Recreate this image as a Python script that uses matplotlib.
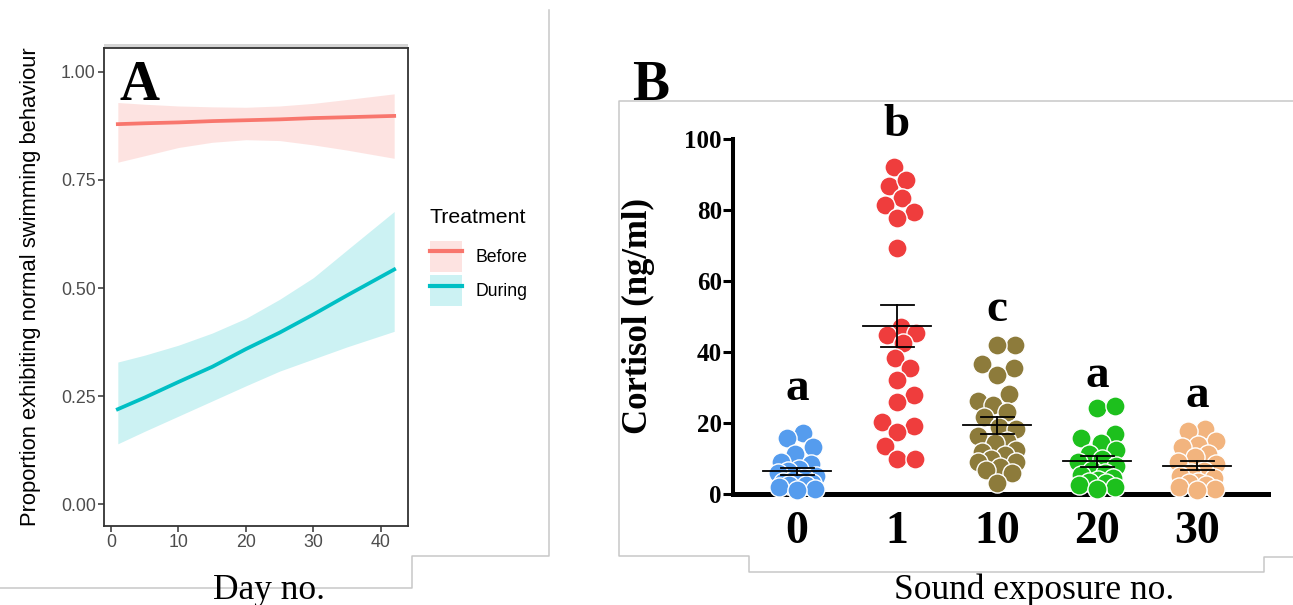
import numpy as np
import matplotlib
matplotlib.use('Agg')
import matplotlib.pyplot as plt
from matplotlib.lines import Line2D
from matplotlib.patches import Patch, Rectangle

# ---- panel A data (model fit + ribbon) ----
day = [1, 5, 10, 15, 20, 25, 30, 35, 42]
before_fit = [0.879, 0.881, 0.883, 0.886, 0.888, 0.890, 0.893, 0.895, 0.898]
before_hi = [0.929, 0.925, 0.921, 0.919, 0.918, 0.921, 0.927, 0.936, 0.949]
before_lo = [0.791, 0.806, 0.825, 0.837, 0.843, 0.841, 0.831, 0.819, 0.800]
during_fit = [0.220, 0.247, 0.283, 0.318, 0.359, 0.397, 0.439, 0.483, 0.543]
during_hi = [0.329, 0.345, 0.368, 0.396, 0.430, 0.474, 0.524, 0.588, 0.677]
during_lo = [0.140, 0.169, 0.204, 0.239, 0.274, 0.308, 0.336, 0.364, 0.400]

# ---- panel B data (cortisol per exposure) ----
exposures = ['0', '1', '10', '20', '30']
cort_0 = [17.3, 15.8, 13.3, 11.4, 9.0, 8.4, 7.0, 6.5, 6.0, 5.0, 4.5, 4.0, 3.5, 3.0, 3.0,
          2.5, 2.5, 2.0, 1.5, 1.0]
cort_1 = [92.2, 86.8, 88.5, 83.3, 81.4, 79.5, 77.7, 69.4, 47.0, 45.3, 44.8, 42.6, 38.2,
          35.4, 32.1, 27.9, 26.0, 20.4, 19.2, 17.5, 13.5, 9.8, 9.8]
cort_10 = [42.0, 42.0, 35.5, 36.5, 33.6, 28.1, 26.2, 25.2, 23.2, 21.7, 18.8, 18.3, 16.3,
           14.8, 14.3, 12.5, 11.8, 10.9, 9.9, 8.9, 8.9, 7.5, 6.9, 5.9, 3.0]
cort_20 = [24.2, 24.7, 16.8, 15.8, 14.3, 12.3, 11.4, 9.9, 8.9, 7.9, 6.9, 6.0, 5.4, 4.4,
           4.0, 3.5, 3.0, 2.5, 2.0, 1.5]
cort_30 = [18.3, 17.8, 14.8, 13.8, 13.3, 11.4, 10.4, 8.9, 8.4, 6.4, 5.9, 5.0, 4.4, 3.5,
           3.0, 2.5, 2.0, 1.5, 1.0]
letters = ['a', 'b', 'c', 'a', 'a']
letter_y = [29.6, 104.0, 51.8, 33.1, 27.6]
colors = ['#559CEE', '#EF3D3D', '#8D7B3B', '#1DC01D', '#F2B47E']

SANS = 'Liberation Sans'
SERIF = 'Liberation Serif'
W, H = 1293, 605


def fx(x):
    return x / W


def fy(y):
    return 1 - y / H


def swarm(vals, dx, dy, frac=0.92, step=0.01, maxoff=0.19):
    # beeswarm kept inside +-maxoff; overlaps allowed when it gets crowded
    vals = np.asarray(vals, float)
    offs = np.zeros(len(vals))
    cands = [0.0]
    k = 1
    while k * step <= maxoff + 1e-9:
        cands += [k * step, -k * step]
        k += 1
    placed = []
    for i in np.argsort(vals):
        y = vals[i]
        best, best_d = 0.0, -1
        for x in cands:
            if placed:
                d = min(np.hypot((x - px) / dx, (y - py) / dy) for px, py in placed)
            else:
                d = 99
            if d >= frac:
                best = x
                break
            if d > best_d:
                best, best_d = x, d
        offs[i] = best
        placed.append((best, y))
    return offs


fig = plt.figure(figsize=(W / 100, H / 100), dpi=100)

# ================= Panel A =================
axA = fig.add_axes([fx(104), fy(526), fx(408) - fx(104), fy(48) - fy(526)])
red, teal = '#F8766D', '#00BFC4'
axA.fill_between(day, before_lo, before_hi, color=red, alpha=0.2, lw=0)
axA.fill_between(day, during_lo, during_hi, color=teal, alpha=0.2, lw=0)
axA.plot(day, before_fit, color=red, lw=2.7)
axA.plot(day, during_fit, color=teal, lw=2.7)
axA.set_xlim(-1.05, 44.05)
axA.set_ylim(-0.05, 1.055)
axA.set_xticks([0, 10, 20, 30, 40])
axA.set_yticks([0, 0.25, 0.5, 0.75, 1.0])
axA.set_yticklabels(['0.00', '0.25', '0.50', '0.75', '1.00'])
axA.tick_params(colors='#333333', labelcolor='#4D4D4D', labelsize=12.8, length=4, width=1.1, pad=2)
for labl in axA.get_xticklabels() + axA.get_yticklabels():
    labl.set_family(SANS)
for s in axA.spines.values():
    s.set_color('#333333')
    s.set_linewidth(1.3)
axA.add_patch(Rectangle((0, 1.0), 1, 0.008, transform=axA.transAxes, color='#D5D5D5',
                        clip_on=False, lw=0))
axA.set_ylabel('Proportion exhibiting normal swimming behaviour', family=SANS, fontsize=15.8)
axA.yaxis.set_label_coords((41 - 104) / (408 - 104), 0.5)

# legend: title as its own text, keys below it
fig.text(fx(430), fy(217), 'Treatment', family=SANS, fontsize=15.3, ha='left', va='center')
h_before = (Patch(facecolor=red, alpha=0.2, lw=0), Line2D([], [], color=red, lw=3))
h_during = (Patch(facecolor=teal, alpha=0.2, lw=0), Line2D([], [], color=teal, lw=3))
leg = axA.legend([h_before, h_during], ['Before', 'During'],
                 loc='upper left', bbox_to_anchor=(fx(430), fy(241)), bbox_transform=fig.transFigure,
                 frameon=False, borderpad=0, borderaxespad=0, handlelength=1.8, handleheight=2.3,
                 labelspacing=0.2, handletextpad=0.8, prop={'family': SANS, 'size': 12.7})

fig.text(fx(119), fy(100), 'A', family=SERIF, weight='bold', fontsize=40, ha='left', va='baseline')
fig.text(fx(269), fy(599), 'Day no.', family=SERIF, fontsize=25.5, ha='center', va='baseline')

# ================= Panel B =================
axB = fig.add_axes([fx(733), fy(494), fx(1268) - fx(733), fy(139) - fy(494)])
groups = [cort_0, cort_1, cort_10, cort_20, cort_30]
for i, vals in enumerate(groups):
    offs = swarm(vals, 0.19, 5.35)
    axB.scatter(i + offs, vals, s=190, color=colors[i], edgecolor='white', linewidth=1.0,
                zorder=3, clip_on=False)
    m = np.mean(vals)
    se = np.std(vals, ddof=1) / np.sqrt(len(vals))
    axB.plot([i - 0.34, i + 0.34], [m, m], color='black', lw=1.3, zorder=4)
    axB.plot([i, i], [m - se, m + se], color='black', lw=1.3, zorder=4)
    for v in (m - se, m + se):
        axB.plot([i - 0.165, i + 0.165], [v, v], color='black', lw=1.3, zorder=4)
    axB.text(i, letter_y[i], letters[i], family=SERIF, weight='bold', fontsize=34,
             ha='center', va='center')

axB.set_xlim(-0.64, 4.71)
axB.set_ylim(0, 100)
axB.set_yticks([0, 20, 40, 60, 80, 100])
axB.set_xticks(range(len(exposures)))
axB.set_xticklabels(exposures)
for s in ['top', 'right']:
    axB.spines[s].set_visible(False)
axB.spines['left'].set_linewidth(2.9)
axB.spines['bottom'].set_linewidth(3.6)
axB.spines['left'].set_bounds(0, 100)
axB.tick_params(axis='y', length=7, width=2.2, labelsize=18, pad=1)
axB.tick_params(axis='x', length=0, labelsize=33, pad=12)
for labl in axB.get_yticklabels() + axB.get_xticklabels():
    labl.set_family(SERIF)
    labl.set_weight('bold')
axB.set_ylabel('Cortisol (ng/ml)', family=SERIF, weight='bold', fontsize=25)
axB.yaxis.set_label_coords((655 - 733) / (1268 - 733), 0.5)

fig.text(fx(632), fy(100), 'B', family=SERIF, weight='bold', fontsize=40, ha='left', va='baseline')
fig.text(fx(1034), fy(599), 'Sound exposure no.', family=SERIF, fontsize=25.5, ha='center', va='baseline')

# ---- grey frame lines of the two source images ----
frames = [
    [(549, 10), (549, 556), (412, 556), (412, 588), (0, 588)],
    [(1293, 101), (619, 101), (619, 556), (749, 556), (749, 572), (1264, 572), (1264, 557), (1293, 557)],
]
for pts in frames:
    xs = [fx(p[0]) for p in pts]
    ys = [fy(p[1]) for p in pts]
    fig.add_artist(Line2D(xs, ys, color='#C8C8C8', lw=1.1, transform=fig.transFigure))

fig.savefig('out.png', dpi=100)
